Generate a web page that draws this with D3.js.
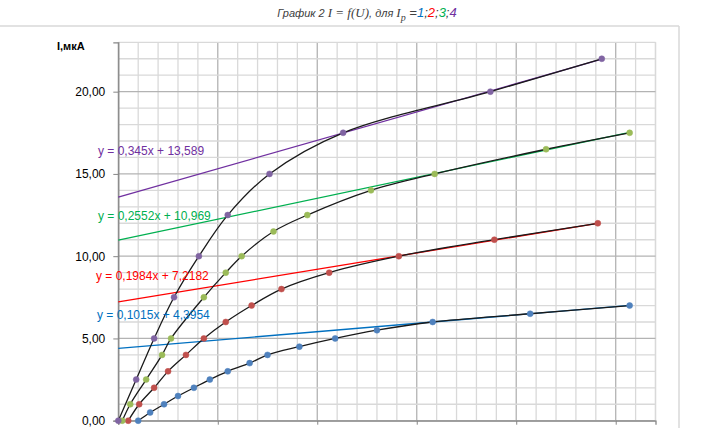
<!DOCTYPE html>
<html><head><meta charset="utf-8">
<script src="https://cdn.jsdelivr.net/npm/d3@7"></script>
<style>body{margin:0;background:#fff}svg{display:block}</style>
</head><body>
<svg id="c" width="716" height="428"></svg>
<script>
// Series data (U, I)
const xBlue   = [1, 1.6, 2.3, 3, 3.8, 4.6, 5.5, 6.6, 7.5, 9.1, 10.9, 13, 15.8, 20.7, 25.7];
const yBlue   = [0, 0.5, 1, 1.5, 2, 2.5, 3, 3.5, 4, 4.5, 5, 5.5, 6, 6.5, 7];
const xRed    = [0.5, 1.05, 1.8, 2.5, 3.4, 4.3, 5.4, 6.7, 8.2, 10.6, 14.1, 18.9, 24.1];
const yRed    = [0, 1, 2, 3, 4, 5, 6, 7, 8, 9, 10, 11, 12];
const xGreen  = [0.2, 0.6, 1.4, 2.2, 2.65, 4.3, 5.4, 6.2, 7.8, 9.5, 12.7, 15.9, 21.5, 25.7];
const yGreen  = [0, 1, 2.5, 4, 5, 7.5, 9, 10, 11.5, 12.5, 14, 15, 16.5, 17.5];
const xPurple = [0, 0.9, 1.8, 2.8, 4.05, 5.5, 7.6, 11.3, 18.7, 24.3];
const yPurple = [0, 2.5, 5, 7.5, 10, 12.5, 15, 17.5, 20, 22];
// Trendlines: slope, intercept, label
const trendSlopes = [0.1015, 0.1984, 0.2552, 0.345];
const trendIntercepts = [4.3954, 7.2182, 10.969, 13.589];
const trendLabels = ["y = 0,1015x + 4,3954", "y = 0,1984x + 7,2182", "y = 0,2552x + 10,969", "y = 0,345x + 13,589"];
const yTicks = [0, 5, 10, 15, 20];
const yTickLabels = ["0,00", "5,00", "10,00", "15,00", "20,00"];

const markerColors = ["#4f81bd", "#c0504d", "#9bbb59", "#8064a2"];
const trendColors = ["#0070c0", "#ff0000", "#00b050", "#7030a0"];
const labelPos = [[97, 315], [96, 276], [98, 216], [98, 151]];

const svg = d3.select("#c");
const L = 118.3, R = 655.5, T = 42.3, B = 420.7;
const x = d3.scaleLinear().domain([0, 27]).range([L, R]);
const y = d3.scaleLinear().domain([0, 23]).range([B, T]);

// chart border
svg.append("line").attr("x1", 0).attr("x2", 679).attr("y1", 26).attr("y2", 26).attr("stroke", "#d9d9d9").attr("stroke-width", 1.5);
svg.append("line").attr("x1", 679).attr("x2", 679).attr("y1", 26).attr("y2", 428).attr("stroke", "#d9d9d9").attr("stroke-width", 1.5);

// gridlines
const g = svg.append("g");
d3.range(0, 28).forEach(v => {
  g.append("line").attr("x1", x(v)).attr("x2", x(v)).attr("y1", T).attr("y2", B)
    .attr("stroke", v % 5 === 0 ? "#b3b3b3" : "#d9d9d9").attr("stroke-width", 1.3);
});
g.append("line").attr("x1", R).attr("x2", R).attr("y1", T).attr("y2", B).attr("stroke", "#d9d9d9").attr("stroke-width", 1.3);
d3.range(0, 24).forEach(v => {
  g.append("line").attr("x1", L).attr("x2", R).attr("y1", y(v)).attr("y2", y(v))
    .attr("stroke", v % 5 === 0 ? "#b3b3b3" : "#d9d9d9").attr("stroke-width", 1.3);
});

// axes
const yAxis = d3.axisLeft(y).tickValues(yTicks).tickFormat((d, i) => yTickLabels[i]).tickSize(5).tickPadding(8);
const ya = svg.append("g").attr("transform", `translate(${L},0)`).call(yAxis);
ya.select(".domain").attr("stroke", "#868686").attr("stroke-width", 1.3);
ya.selectAll(".tick line").attr("stroke", "#868686");
ya.selectAll("text").attr("font-family", "Liberation Sans, Arial, sans-serif").attr("font-size", 12).attr("fill", "#000");

const xAxis = d3.axisBottom(x).tickValues([0, 5, 10, 15, 20, 25]).tickFormat("").tickSize(4);
const xa = svg.append("g").attr("transform", `translate(0,${B})`).call(xAxis);
xa.select(".domain").attr("stroke", "#868686").attr("stroke-width", 1.3);
xa.selectAll(".tick line").attr("stroke", "#868686");

// y label
svg.append("text").attr("x", 57).attr("y", 50).attr("font-family", "Liberation Sans, Arial, sans-serif")
  .attr("font-size", 11).attr("font-weight", "bold").text("I,мкА");

// trendlines
const lastX = [xBlue, xRed, xGreen, xPurple].map(a => a[a.length - 1]);
trendSlopes.forEach((m, i) => {
  svg.append("line").attr("x1", x(0)).attr("y1", y(trendIntercepts[i]))
    .attr("x2", x(lastX[i])).attr("y2", y(m * lastX[i] + trendIntercepts[i]))
    .attr("stroke", trendColors[i]).attr("stroke-width", 1.3);
});

// curves + markers
const series = [[xBlue, yBlue], [xRed, yRed], [xGreen, yGreen], [xPurple, yPurple]];
const line = d3.line().x(d => x(d[0])).y(d => y(d[1])).curve(d3.curveCatmullRom.alpha(0.5));
series.forEach((s, i) => {
  const pts = s[0].map((v, k) => [v, s[1][k]]);
  svg.append("path").datum(pts).attr("d", line).attr("fill", "none").attr("stroke", "#1a1a1a").attr("stroke-width", 1.3);
  svg.append("g").selectAll("circle").data(pts).join("circle")
    .attr("cx", d => x(d[0])).attr("cy", d => y(d[1])).attr("r", 3)
    .attr("fill", markerColors[i]).attr("stroke", markerColors[i]).attr("stroke-width", 0.5);
});

// trend labels
trendLabels.forEach((t, i) => {
  svg.append("text").attr("x", labelPos[i][0]).attr("y", labelPos[i][1]).attr("dy", "0.35em")
    .attr("font-family", "Liberation Sans, Arial, sans-serif").attr("font-size", 12)
    .attr("fill", trendColors[i]).text(t);
});

// title
const title = svg.append("text").attr("x", 367).attr("y", 17).attr("text-anchor", "middle")
  .attr("font-family", "Liberation Sans, Arial, sans-serif").attr("font-size", 11)
  .attr("font-style", "italic").attr("fill", "#404040");
title.append("tspan").text("График 2 ");
title.append("tspan").attr("font-family", "Liberation Serif, serif").attr("font-size", 13).text("I = f(U)");
title.append("tspan").text(", для ");
title.append("tspan").attr("font-family", "Liberation Serif, serif").attr("font-size", 13).text("I");
title.append("tspan").attr("font-family", "Liberation Serif, serif").attr("font-size", 10).attr("dy", 4).text("p");
title.append("tspan").attr("dy", -4).attr("font-size", 13).text(" =");
const nums = ["1", "2", "3", "4"];
nums.forEach((n, i) => {
  title.append("tspan").attr("font-size", 13).attr("fill", trendColors[i] === "#ff0000" ? "#ff0000" : ["#0070c0", "#ff0000", "#00b050", "#7030a0"][i]).text(n);
  if (i < 3) title.append("tspan").attr("font-size", 13).text(";");
});
</script>
</body></html>
